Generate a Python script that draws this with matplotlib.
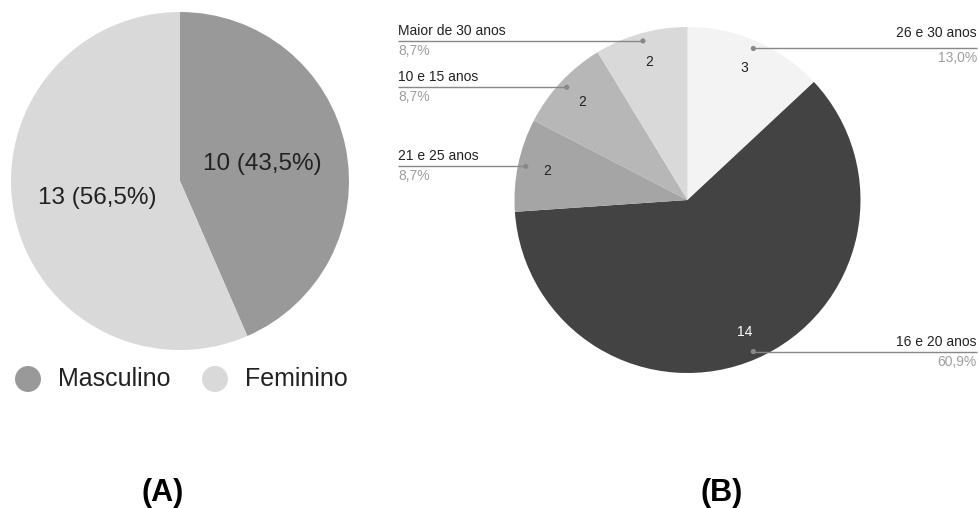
import matplotlib
matplotlib.use("Agg")
import matplotlib.pyplot as plt
import numpy as np

plt.rcParams['font.family'] = ['Liberation Sans', 'DejaVu Sans']

# Panel A: gender
gender_labels = ["Masculino", "Feminino"]
gender_counts = [10, 13]
gender_colors = ["#999999", "#d9d9d9"]

# Panel B: age groups (clockwise from the top)
age_labels = ["26 e 30 anos", "16 e 20 anos", "21 e 25 anos", "10 e 15 anos", "Maior de 30 anos"]
age_counts = [3, 14, 2, 2, 2]
age_colors = ["#f3f3f3", "#434343", "#a5a5a5", "#b7b7b7", "#d9d9d9"]

panel_titles = ["(A)", "(B)"]

W, H = 979, 508
fig = plt.figure(figsize=(W / 100, H / 100), dpi=100)
ax = fig.add_axes([0, 0, 1, 1])


def br(v, nd=1):
    return f"{v:.{nd}f}".replace('.', ',')


# ---- Panel A ----
ca = (180, H - 181)
ra = 169
total_a = sum(gender_counts)
wedges, texts, autotexts = ax.pie(
    gender_counts, colors=gender_colors, startangle=90, counterclock=False,
    center=ca, radius=ra, pctdistance=0.5, frame=True,
    autopct=lambda p: f"{int(round(p * total_a / 100))} ({br(p)}%)",
    wedgeprops=dict(linewidth=0),
    textprops=dict(fontsize=17.5, color="#222222"))

# legend row under pie A
leg_x = [28, 215]
leg_y = H - 379
for x, lab, col in zip(leg_x, gender_labels, gender_colors):
    ax.scatter([x], [leg_y], s=350, color=col, edgecolors='none')
    ax.text(x + 30, leg_y, lab, fontsize=18, color="#222222", va='center', ha='left')

# ---- Panel B ----
cb = (687.5, H - 200)
rb = 173
total_b = sum(age_counts)
wedges_b, _, auto_b = ax.pie(
    age_counts, colors=age_colors, startangle=90, counterclock=False,
    center=cb, radius=rb, pctdistance=0.83, frame=True,
    autopct=lambda p: f"{int(round(p * total_b / 100))}",
    wedgeprops=dict(linewidth=0),
    textprops=dict(fontsize=10, color="#222222"))
for t, col in zip(auto_b, age_colors):
    if col == "#434343":
        t.set_color("white")

left_x, right_x = 398, 977
name_shift = {"26 e 30 anos": 5}
for w, lab, n in zip(wedges_b, age_labels, age_counts):
    mid = np.deg2rad((w.theta1 + w.theta2) / 2)
    dx = cb[0] + 0.955 * rb * np.cos(mid)
    dy = cb[1] + 0.955 * rb * np.sin(mid)
    right = np.cos(mid) > 0
    end_x = right_x if right else left_x
    ax.plot([dx, end_x], [dy, dy], color="#888888", lw=1.0, solid_capstyle='butt')
    ax.scatter([dx], [dy], s=14, color="#888888", edgecolors='none', zorder=5)
    ha = 'right' if right else 'left'
    ax.text(end_x, dy + 3 + name_shift.get(lab, 0), lab, fontsize=10, color="#222222",
            ha=ha, va='bottom')
    ax.text(end_x, dy - 3, f"{br(100 * n / total_b)}%", fontsize=10, color="#9e9e9e",
            ha=ha, va='top')

# panel letters
ax.text(163, H - 493, panel_titles[0], fontsize=22, fontweight='bold', ha='center', va='center')
ax.text(722, H - 493, panel_titles[1], fontsize=22, fontweight='bold', ha='center', va='center')

ax.set_xlim(0, W)
ax.set_ylim(0, H)
ax.set_aspect('equal')
ax.axis('off')

fig.savefig("out.png", dpi=100, facecolor='white')
